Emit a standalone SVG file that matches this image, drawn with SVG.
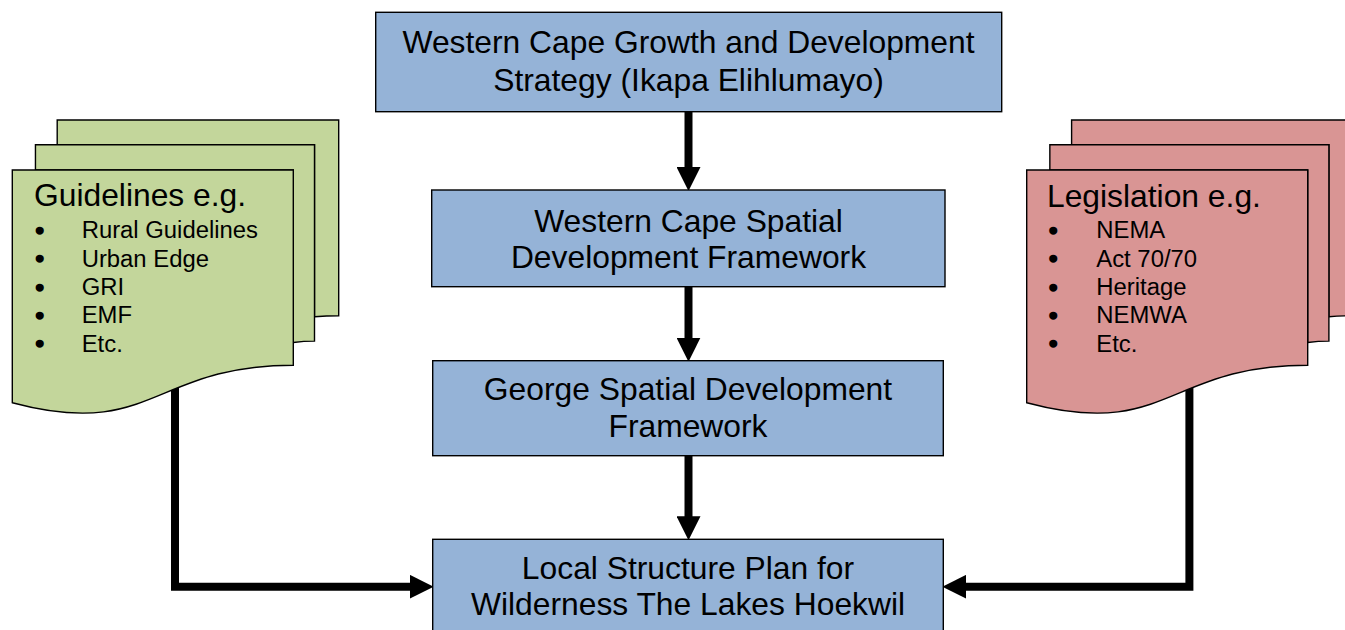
<svg xmlns="http://www.w3.org/2000/svg" width="1345" height="630" viewBox="0 0 1345 630">
<style>
  text { font-family: "Liberation Sans", Arial, sans-serif; fill: #000; }
  .box { fill: #95B3D7; stroke: #000; stroke-width: 1.4; }
  .green { fill: #C3D69B; stroke: #000; stroke-width: 1.4; stroke-linejoin: miter; }
  .red { fill: #D99594; stroke: #000; stroke-width: 1.4; stroke-linejoin: miter; }
  .big { font-size: 31.8px; }
  .ctr { text-anchor: middle; }
  .small { font-size: 23.85px; }
  .bul { font-size: 24px; stroke: #000; stroke-width: 1.6; }
  .conn { fill: none; stroke: #000; stroke-width: 8; stroke-linejoin: miter; stroke-linecap: butt; marker-end: url(#ah); }
</style>
<defs>
  <marker id="ah" markerUnits="userSpaceOnUse" markerWidth="24" markerHeight="24" viewBox="0 0 23 23" refX="1" refY="11.5" orient="auto">
    <path d="M0,0 L23,11.5 L0,23 Z" fill="#000"/>
  </marker>
</defs>
<rect width="1345" height="630" fill="#fff"/>

<g id="connectors">
  <path class="conn" d="M688.5,111.7 V168"/>
  <path class="conn" d="M688.5,286.7 V338.7"/>
  <path class="conn" d="M688.5,455.7 V517.3"/>
  <path class="conn" d="M175,385 V586.7 H410.7"/>
  <path class="conn" d="M1189.4,385 V586.7 H965.3"/>
</g>

<g id="guidelines">
  <path class="green" d="M57.2,144.7 L57.2,120 L338.7,120 L338.7,315.8 C326.6,315.8 314.5,316.8 314.5,316.8 L314.5,144.7 Z"/>
  <path class="green" d="M35.45,170 L35.45,144.7 L314.5,144.7 L314.5,341.1 C303.9,341.1 293.3,342.5 293.3,342.5 L293.3,170 Z"/>
  <path class="green" d="M12.3,402.7 C152.8,440.3 152.8,365.2 293.3,365.2 L293.3,170 L12.3,170 Z"/>
  <text class="big" x="34" y="206">Guidelines e.g.</text>
  <g class="bul">
    <text x="35.6" y="239">•</text>
    <text x="35.6" y="267.4">•</text>
    <text x="35.6" y="295.7">•</text>
    <text x="35.6" y="324">•</text>
    <text x="35.6" y="352.4">•</text>
  </g>
  <g class="small">
    <text x="81.7" y="238.3">Rural Guidelines</text>
    <text x="81.7" y="266.7">Urban Edge</text>
    <text x="81.7" y="295">GRI</text>
    <text x="81.7" y="323.3">EMF</text>
    <text x="81.7" y="351.7">Etc.</text>
  </g>
</g>

<g id="legislation">
  <path class="red" d="M1071.6,144.7 L1071.6,120 L1353.1,120 L1353.1,315.8 C1341,315.8 1328.9,316.8 1328.9,316.8 L1328.9,144.7 Z"/>
  <path class="red" d="M1049.85,170 L1049.85,144.7 L1328.9,144.7 L1328.9,341.1 C1318.3,341.1 1307.7,342.5 1307.7,342.5 L1307.7,170 Z"/>
  <path class="red" d="M1026.7,402.7 C1167.2,440.3 1167.2,365.2 1307.7,365.2 L1307.7,170 L1026.7,170 Z"/>
  <text class="big" x="1047" y="206.5">Legislation e.g.</text>
  <g class="bul">
    <text x="1049.1" y="239">•</text>
    <text x="1049.1" y="267.4">•</text>
    <text x="1049.1" y="295.7">•</text>
    <text x="1049.1" y="324">•</text>
    <text x="1049.1" y="352.4">•</text>
  </g>
  <g class="small">
    <text x="1096.3" y="238.3">NEMA</text>
    <text x="1096.3" y="266.7">Act 70/70</text>
    <text x="1096.3" y="295">Heritage</text>
    <text x="1096.3" y="323.3">NEMWA</text>
    <text x="1096.3" y="351.7">Etc.</text>
  </g>
</g>

<g id="wcgds">
  <rect class="box" x="375.7" y="12.3" width="626" height="99.4"/>
  <text class="big ctr" x="688.5" y="53.3">Western Cape Growth and Development</text>
  <text class="big ctr" x="688.5" y="90.7">Strategy (Ikapa Elihlumayo)</text>
</g>

<g id="wcsdf">
  <rect class="box" x="431.7" y="190" width="513.3" height="96.7"/>
  <text class="big ctr" x="688.5" y="231.7">Western Cape Spatial</text>
  <text class="big ctr" x="688.5" y="268.3">Development Framework</text>
</g>

<g id="gsdf">
  <rect class="box" x="432.7" y="360.7" width="510.6" height="95"/>
  <text class="big ctr" x="688" y="400">George Spatial Development</text>
  <text class="big ctr" x="688" y="436.7">Framework</text>
</g>

<g id="lsp">
  <rect class="box" x="432.7" y="539.3" width="510.6" height="100"/>
  <text class="big ctr" x="688" y="579">Local Structure Plan for</text>
  <text class="big ctr" x="688" y="615">Wilderness The Lakes Hoekwil</text>
</g>
</svg>
